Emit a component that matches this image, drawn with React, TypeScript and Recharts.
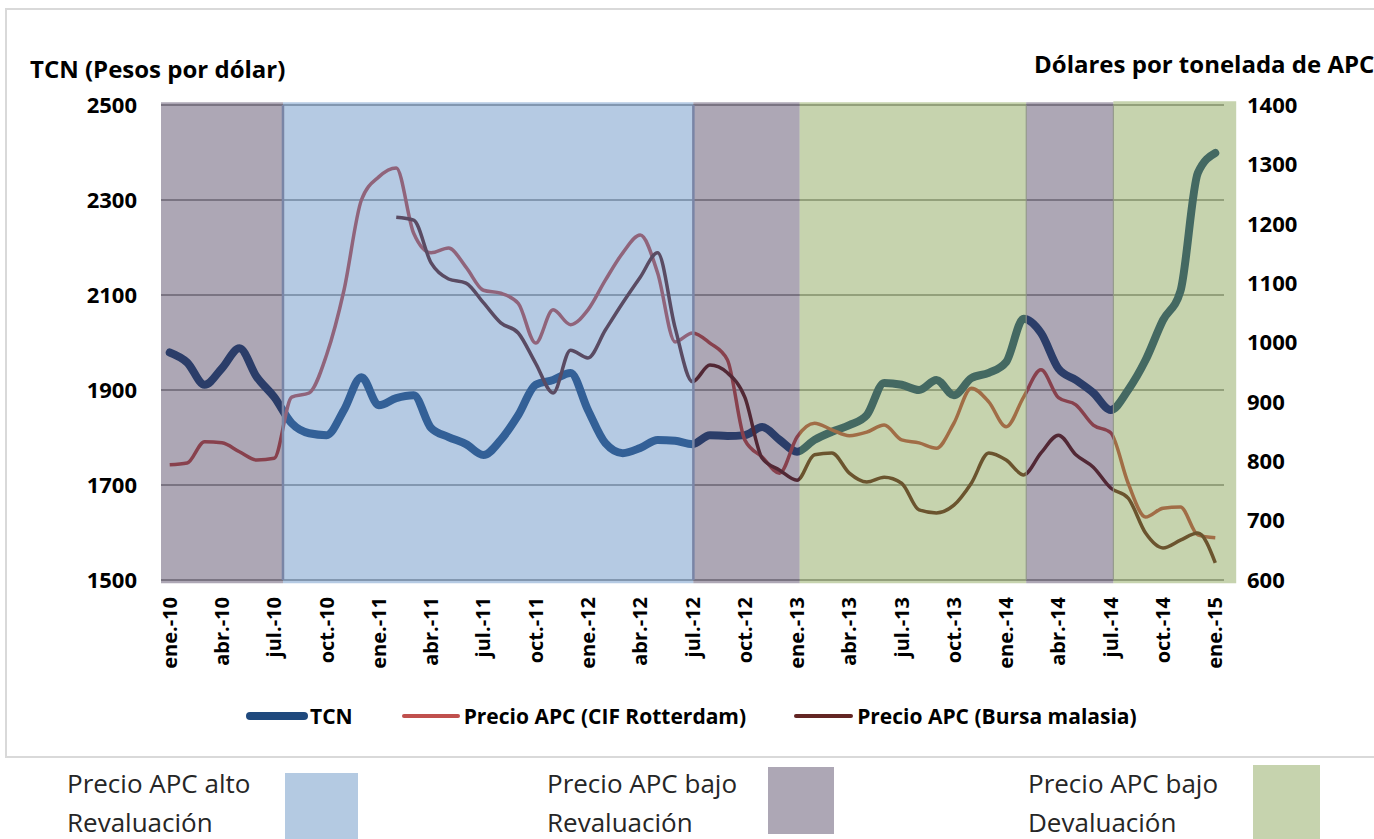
import React from 'react';
import {
  LineChart,
  Line,
  XAxis,
  YAxis,
  CartesianGrid,
  ReferenceArea,
  ReferenceLine,
} from 'recharts';

// monthly, ene.-10 .. ene.-15 (61 months)
const tickLabels = [
  'ene.-10', 'abr.-10', 'jul.-10', 'oct.-10',
  'ene.-11', 'abr.-11', 'jul.-11', 'oct.-11',
  'ene.-12', 'abr.-12', 'jul.-12', 'oct.-12',
  'ene.-13', 'abr.-13', 'jul.-13', 'oct.-13',
  'ene.-14', 'abr.-14', 'jul.-14', 'oct.-14',
  'ene.-15',
];

const tcn = [
  1979, 1958, 1911, 1946, 1988, 1927, 1885, 1830, 1809, 1805,
  1858, 1927, 1868, 1883, 1889, 1820, 1801, 1786, 1763, 1795,
  1847, 1911, 1921, 1936, 1858, 1788, 1767, 1778, 1795, 1793,
  1786, 1805, 1803, 1805, 1822, 1795, 1770, 1795, 1812, 1826,
  1847, 1915, 1911, 1900, 1921, 1889, 1925, 1936, 1959, 2050,
  2020, 1945, 1921, 1894, 1858, 1900, 1963, 2047, 2108, 2357,
  2399,
];

const rotterdam = [
  794, 797, 833, 831, 816, 802, 805, 908, 915, 979,
  1088, 1240, 1279, 1294, 1184, 1151, 1159, 1127, 1088, 1083,
  1066, 999, 1055, 1030, 1055, 1105, 1151, 1181, 1117, 1001,
  1016, 999, 971, 836, 807, 780, 841, 864, 853, 843,
  849, 861, 836, 831, 822, 864, 923, 900, 858, 908,
  954, 907, 895, 861, 848, 763, 706, 721, 723, 676,
  671,
];

const bursa: (number | null)[] = [
  null, null, null, null, null, null, null, null, null, null,
  null, null, null, 1211, 1206, 1134, 1107, 1100, 1067, 1033,
  1016, 965, 915, 987, 974, 1021, 1067, 1110, 1151, 1025,
  934, 962, 949, 908, 805, 785, 768, 811, 814, 780,
  765, 773, 763, 718, 713, 726, 763, 814, 802, 777,
  814, 844, 811, 790, 755, 738, 679, 654, 667, 679,
  629,
];

// shaded periods, in month index
const periods = [
  { from: -0.5, to: 6.5, kind: 'purple' },
  { from: 6.5, to: 30.05, kind: 'blue' },
  { from: 30.05, to: 36.15, kind: 'purple' },
  { from: 36.15, to: 49.15, kind: 'green' },
  { from: 49.15, to: 54.15, kind: 'purple' },
  { from: 54.15, to: 61.2, kind: 'green' },
];

const shade: Record<string, string> = {
  blue: '#4F81BD',
  purple: '#3C2D4F',
  green: '#77963E',
};

const data = tcn.map((v, i) => ({
  i,
  tcn: v,
  rotterdam: rotterdam[i],
  bursa: bursa[i],
}));

const monthTicks = tickLabels.map((_, k) => k * 3);

const XTick = ({ x, y, payload }: any) => (
  <text
    x={x}
    y={y}
    dy="0.35em"
    transform={`rotate(-90 ${x} ${y})`}
    textAnchor="end"
    fontSize={20}
    fontWeight={700}
    fill="#000"
  >
    {tickLabels[payload.value / 3]}
  </text>
);

const legendText: React.CSSProperties = {
  fontSize: 21,
  fontWeight: 700,
  color: '#000',
  whiteSpace: 'nowrap',
};

const noteText: React.CSSProperties = {
  position: 'absolute',
  fontSize: 26,
  lineHeight: '30px',
  color: '#262626',
  whiteSpace: 'nowrap',
};

export default function App() {
  return (
    <div
      style={{
        position: 'absolute',
        left: 0,
        top: 0,
        width: 1374,
        height: 839,
        background: '#fff',
        overflow: 'hidden',
        fontFamily: '"Open Sans", sans-serif',
      }}
    >
      <div
        style={{
          position: 'absolute',
          left: 5,
          top: 8,
          width: 1400,
          height: 746,
          border: '2px solid #d9d9d9',
        }}
      />

      <div style={{ position: 'absolute', left: 0, top: 0 }}>
        <LineChart
          width={1374}
          height={700}
          data={data}
          margin={{ top: 105, right: 0, left: 0, bottom: 0 }}
          style={{ fontFamily: '"Open Sans", sans-serif' }}
        >
          <CartesianGrid
            yAxisId="left"
            vertical={false}
            stroke="#8a8a8a"
            strokeWidth={1.5}
          />
          <XAxis
            dataKey="i"
            type="number"
            domain={[-0.5, 60.5]}
            ticks={monthTicks}
            interval={0}
            height={120}
            axisLine={false}
            tickLine={false}
            tickMargin={11}
            tick={<XTick />}
          />
          <YAxis
            yAxisId="left"
            width={161}
            domain={[1500, 2500]}
            ticks={[1500, 1700, 1900, 2100, 2300, 2500]}
            axisLine={false}
            tickLine={false}
            tickMargin={18}
            tick={{ fontSize: 22, fontWeight: 700, fill: '#000' }}
          />
          <YAxis
            yAxisId="right"
            orientation="right"
            width={150}
            domain={[600, 1400]}
            ticks={[600, 700, 800, 900, 1000, 1100, 1200, 1300, 1400]}
            axisLine={false}
            tickLine={false}
            tickMargin={17}
            tick={{ fontSize: 22, fontWeight: 700, fill: '#000' }}
          />

          <Line
            yAxisId="left"
            type="monotone"
            dataKey="tcn"
            stroke="#1F497D"
            strokeWidth={8}
            strokeLinecap="round"
            dot={false}
            isAnimationActive={false}
          />
          <Line
            yAxisId="right"
            type="monotone"
            dataKey="rotterdam"
            stroke="#C0504D"
            strokeWidth={3.5}
            dot={false}
            isAnimationActive={false}
          />
          <Line
            yAxisId="right"
            type="monotone"
            dataKey="bursa"
            stroke="#632523"
            strokeWidth={3.5}
            dot={false}
            isAnimationActive={false}
          />

          {periods.map((p, k) => (
            <ReferenceArea
              key={k}
              yAxisId="left"
              x1={p.from}
              x2={p.to}
              y1={1493}
              y2={k === 5 ? 2508 : 2506}
              fill={shade[p.kind]}
              fillOpacity={0.42}
              stroke="none"
              ifOverflow="visible"
              zIndex={450}
            />
          ))}
          <ReferenceLine yAxisId="left" x={6.5} stroke="#7985a6" strokeWidth={2.5} zIndex={460} />
          <ReferenceLine yAxisId="left" x={30.05} stroke="#7985a6" strokeWidth={2.5} zIndex={460} />
          <ReferenceLine yAxisId="left" x={49.15} stroke="#8d9284" strokeWidth={1} zIndex={460} />
          <ReferenceLine yAxisId="left" x={54.15} stroke="#8d9284" strokeWidth={1} zIndex={460} />
        </LineChart>
      </div>

      <div
        style={{
          position: 'absolute',
          left: 30,
          top: 52,
          fontSize: 24,
          fontWeight: 700,
          whiteSpace: 'nowrap',
        }}
      >
        TCN (Pesos por dólar)
      </div>
      <div
        style={{
          position: 'absolute',
          left: 1034,
          top: 47,
          fontSize: 24,
          fontWeight: 700,
          whiteSpace: 'nowrap',
        }}
      >
        Dólares por tonelada de APC
      </div>

      <div
        style={{
          position: 'absolute',
          left: 246,
          top: 702,
          display: 'flex',
          alignItems: 'center',
        }}
      >
        <div style={{ width: 62, height: 8, borderRadius: 4, background: '#1F497D' }} />
        <span style={{ ...legendText, marginLeft: 2 }}>TCN</span>
        <div style={{ width: 58, height: 4, borderRadius: 2, background: '#C0504D', marginLeft: 49 }} />
        <span style={{ ...legendText, marginLeft: 4 }}>Precio APC (CIF Rotterdam)</span>
        <div style={{ width: 59, height: 4, borderRadius: 2, background: '#632523', marginLeft: 48 }} />
        <span style={{ ...legendText, marginLeft: 4 }}>Precio APC (Bursa malasia)</span>
      </div>

      <div style={{ ...noteText, left: 67, top: 768 }}>Precio APC alto</div>
      <div style={{ ...noteText, left: 67, top: 807 }}>Revaluación</div>
      <div style={{ position: 'absolute', left: 285, top: 773, width: 73, height: 70, background: '#B4CAE2' }} />

      <div style={{ ...noteText, left: 547, top: 768 }}>Precio APC bajo</div>
      <div style={{ ...noteText, left: 547, top: 807 }}>Revaluación</div>
      <div style={{ position: 'absolute', left: 768, top: 767, width: 66, height: 67, background: '#ADA7B5' }} />

      <div style={{ ...noteText, left: 1028, top: 768 }}>Precio APC bajo</div>
      <div style={{ ...noteText, left: 1028, top: 807 }}>Devaluación</div>
      <div style={{ position: 'absolute', left: 1253, top: 765, width: 67, height: 78, background: '#C6D3AE' }} />
    </div>
  );
}
